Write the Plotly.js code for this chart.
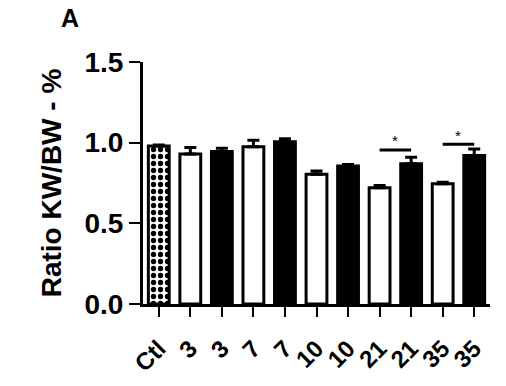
<!DOCTYPE html>
<html>
<head>
<meta charset="utf-8">
<script src="https://cdn.plot.ly/plotly-3.0.1.min.js"></script>
<style>
html,body{margin:0;padding:0;background:#fff}
#plot{width:506px;height:386px}
</style>
</head>
<body>
<div id="plot"></div>
<script>
// group labels (days), one per bar
const labels = ["Ctl","3","3","7","7","10","10","21","21","35","35"]
const means  = [0.98,0.93,0.945,0.975,1.005,0.805,0.855,0.72,0.87,0.745,0.92]
const sems   = [0.005,0.04,0.02,0.04,0.02,0.02,0.01,0.015,0.04,0.01,0.04]
const fills  = ["#ffffff","#ffffff","#000000","#ffffff","#000000","#ffffff","#000000","#ffffff","#000000","#ffffff","#000000"]

// significance brackets: pairs of bar indices
const sigPairs = [[7,8],[9,10]]
const sigLevels = [0.955,0.99]

const xs = labels.map((d,i)=>i)

const ctl = {
x:[xs[0]],
y:[means[0]],
type:"bar",
width:0.66,
marker:{
color:"#fff",
line:{color:"#000",width:3},
pattern:{shape:".",size:7,solidity:0.45,fgcolor:"#000",bgcolor:"#fff"}
},
error_y:{type:"data",symmetric:false,array:[sems[0]],arrayminus:[0],color:"#000",thickness:3,width:6},
hoverinfo:"skip",
showlegend:false
}

const bars = {
x:xs.slice(1),
y:means.slice(1),
type:"bar",
width:0.66,
marker:{
color:fills.slice(1),
line:{color:"#000",width:3}
},
error_y:{type:"data",symmetric:false,array:sems.slice(1),arrayminus:sems.slice(1).map(()=>0),color:"#000",thickness:3,width:6},
hoverinfo:"skip",
showlegend:false
}

const shapes = sigPairs.map((p,i)=>({
type:"line",xref:"x",yref:"y",
x0:p[0],x1:p[1],y0:sigLevels[i],y1:sigLevels[i],
line:{color:"#000",width:3}
}))

const annotations = sigPairs.map((p,i)=>({
x:(p[0]+p[1])/2,y:sigLevels[i],xref:"x",yref:"y",
text:"*",showarrow:false,yshift:9,
font:{family:"Arial, Liberation Sans",size:15,color:"#000"}
}))

annotations.push({
text:"A",xref:"paper",yref:"paper",x:-0.21,y:1.18,xanchor:"center",yanchor:"middle",
showarrow:false,font:{family:"Arial, Liberation Sans",size:25,weight:"bold",color:"#000"}
})

const tickFont = {family:"Arial, Liberation Sans",size:28,weight:"bold",color:"#000"}

Plotly.newPlot("plot",[ctl,bars],{
width:506,height:386,
margin:{l:143,r:16,t:62,b:82},
paper_bgcolor:"#fff",plot_bgcolor:"#fff",
barmode:"overlay",
xaxis:{
range:[-0.5,10.5],
tickvals:xs,ticktext:labels,
tickangle:-45,
tickfont:{family:"Arial, Liberation Sans",size:24,weight:"bold",color:"#000"},
ticks:"outside",ticklen:10,tickwidth:2,tickcolor:"#000",
ticklabelstandoff:8,
showline:true,linewidth:3,linecolor:"#000",
showgrid:false,zeroline:false
},
yaxis:{
range:[0,1.5],
tickvals:[0,0.5,1.0,1.5],
tickformat:".1f",
tickfont:tickFont,
ticks:"outside",ticklen:11,tickwidth:2,tickcolor:"#000",
showline:true,linewidth:3,linecolor:"#000",
showgrid:false,zeroline:false,
title:{text:"Ratio KW/BW - %",standoff:15,font:{family:"Arial, Liberation Sans",size:28,weight:"bold",color:"#000"}}
},
shapes:shapes,
annotations:annotations
},{staticPlot:true})
</script>
</body>
</html>
